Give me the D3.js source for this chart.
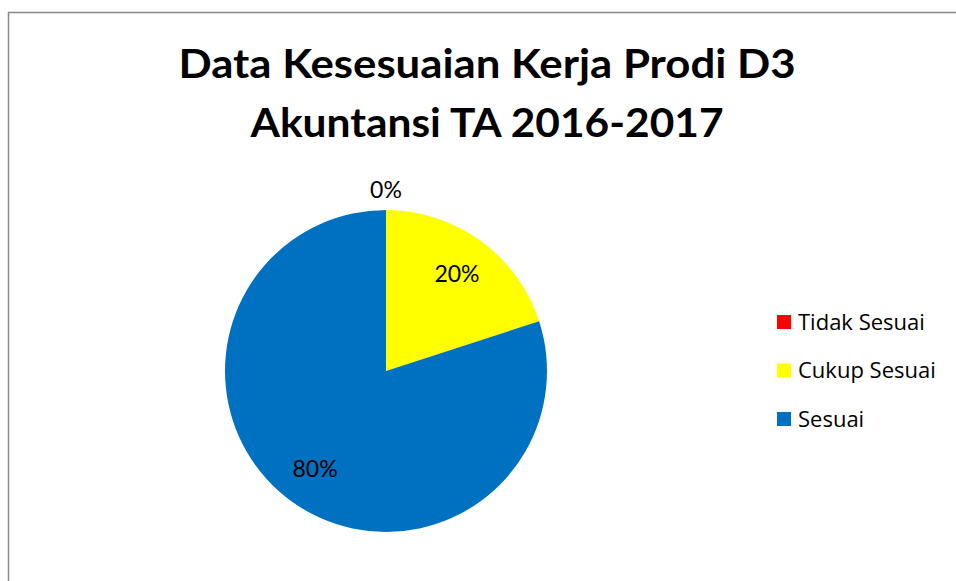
<!DOCTYPE html>
<html>
<head>
<meta charset="utf-8">
<script src="https://cdn.jsdelivr.net/npm/d3@7"></script>
<style>
  body { margin: 0; background: #fff; }
  svg { display: block; }
</style>
</head>
<body>
<div id="chart"></div>
<script>
// chart data
const titleLines = ['Data Kesesuaian Kerja Prodi D3', 'Akuntansi TA 2016-2017'];
const categories = ['Tidak Sesuai', 'Cukup Sesuai', 'Sesuai'];
const values = [0, 20, 80];
const colors = ['#FF0000', '#FFFF00', '#0070C0'];

// frame constants
const FRAME_WIDTH = 956;
const FRAME_HEIGHT = 581;
const CENTER = {x: 386, y: 371};
const RADIUS = 161;
const FONT = 'Lato, "Open Sans", sans-serif';
const LEGEND_FONT = '"Open Sans", Lato, sans-serif';

const svg = d3.select('#chart')
  .append('svg')
  .attr('width', FRAME_WIDTH)
  .attr('height', FRAME_HEIGHT);

// chart area border (runs off the page on right and bottom)
svg.append('rect')
  .attr('x', 8.5)
  .attr('y', 12.5)
  .attr('width', 1000)
  .attr('height', 700)
  .attr('fill', '#fff')
  .attr('stroke', '#898989')
  .attr('stroke-width', 1.5);

// title, two lines
const titleWidths = [617, 473];
svg.selectAll('.title')
  .data(titleLines)
  .join('text')
  .attr('class', 'title')
  .attr('x', 487)
  .attr('y', (d, i) => 78 + i * 59)
  .attr('text-anchor', 'middle')
  .attr('font-family', FONT)
  .attr('font-weight', 'bold')
  .attr('font-size', 41)
  .attr('textLength', (d, i) => titleWidths[i])
  .attr('lengthAdjust', 'spacingAndGlyphs')
  .attr('fill', '#000')
  .text(d => d);

// pie
const data = categories.map((c, i) => ({name: c, value: values[i], color: colors[i]}));
const pie = d3.pie().sort(null).value(d => d.value);
const arcs = pie(data);
const arc = d3.arc().innerRadius(0).outerRadius(RADIUS);
const labelArc = d3.arc().innerRadius(RADIUS * 0.75).outerRadius(RADIUS * 0.75);
const outerArc = d3.arc().innerRadius(RADIUS + 20).outerRadius(RADIUS + 20);

const g = svg.append('g')
  .attr('transform', `translate(${CENTER.x},${CENTER.y})`);

g.selectAll('path')
  .data(arcs)
  .join('path')
  .attr('d', arc)
  .attr('fill', d => d.data.color);

const total = d3.sum(values);
g.selectAll('.label')
  .data(arcs)
  .join('text')
  .attr('class', 'label')
  .attr('transform', d => `translate(${(d.value === 0 ? outerArc : labelArc).centroid(d)})`)
  .attr('text-anchor', 'middle')
  .attr('dy', '0.36em')
  .attr('font-family', FONT)
  .attr('font-size', 23)
  .attr('fill', '#000')
  .text(d => Math.round(d.value / total * 100) + '%');

// legend
const legend = svg.append('g')
  .attr('transform', 'translate(777,315)');

const rows = legend.selectAll('g')
  .data(data)
  .join('g')
  .attr('transform', (d, i) => `translate(0,${i * 48.5})`);

rows.append('rect')
  .attr('width', 14)
  .attr('height', 14)
  .attr('fill', d => d.color);

rows.append('text')
  .attr('x', 21)
  .attr('y', 14.5)
  .attr('font-family', LEGEND_FONT)
  .attr('font-size', 22)
  .attr('fill', '#000')
  .text(d => d.name);
</script>
</body>
</html>
